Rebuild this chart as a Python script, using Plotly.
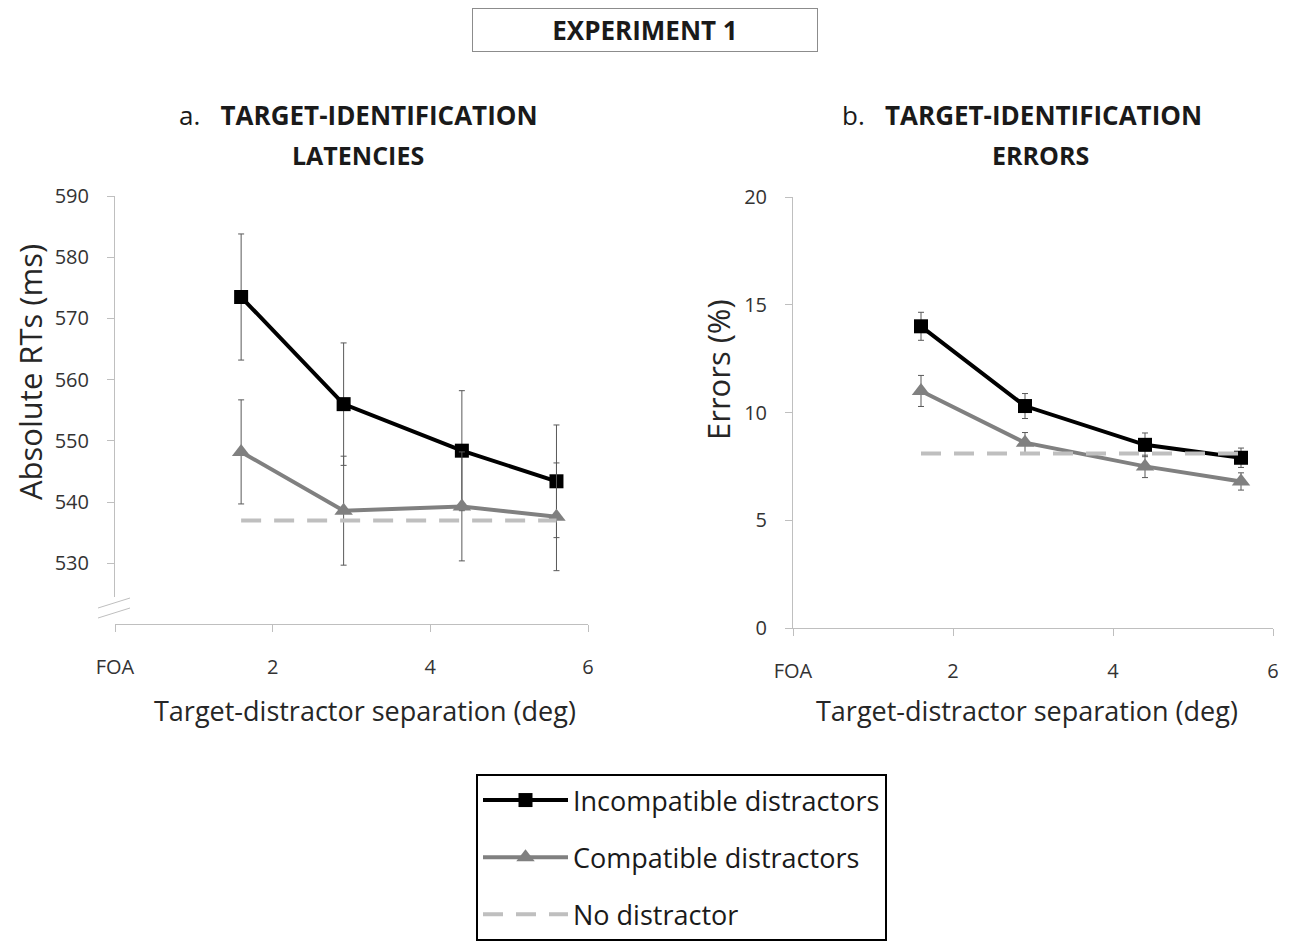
import plotly.graph_objects as go

# ---------------- data ----------------
sep = [1.6, 2.9, 4.4, 5.6]
x_tickvals = [0, 2, 4, 6]
x_ticktext = ["FOA", "2", "4", "6"]

rt_incomp = [573.5, 556.0, 548.4, 543.4]
rt_incomp_err = [10.3, 10.0, 9.8, 9.2]
rt_comp = [548.2, 538.6, 539.3, 537.6]
rt_comp_err = [8.5, 8.9, 8.9, 8.8]
rt_nodist = [537.0, 537.0, 537.0, 537.0]

er_incomp = [14.0, 10.3, 8.5, 7.9]
er_incomp_err = [0.65, 0.58, 0.55, 0.45]
er_comp = [11.0, 8.6, 7.5, 6.8]
er_comp_err = [0.72, 0.47, 0.52, 0.40]
er_nodist = [8.1, 8.1, 8.1, 8.1]

rt_ticks = [530, 540, 550, 560, 570, 580, 590]
er_ticks = [0, 5, 10, 15, 20]

names = ["Incompatible distractors", "Compatible distractors", "No distractor"]

FONT = "Open Sans"
OFF = 8                      # default page body margin
W, H = 1297 - OFF, 945 - OFF

def px_x(p):
    return (p - OFF) / W

def px_y(p):
    return 1 - (p - OFF) / H

fig = go.Figure()

err_style = dict(type="data", thickness=1, width=3, color="#595959")

def add_panel(xa, ya, inc, inc_e, comp, comp_e, nod, legend):
    fig.add_trace(go.Scatter(
        x=sep, y=nod, mode="lines", name=names[2], legendgroup="g3",
        showlegend=legend, xaxis=xa, yaxis=ya,
        line=dict(color="#bfbfbf", width=4, dash="20px,13px")))
    fig.add_trace(go.Scatter(
        x=sep, y=comp, mode="lines+markers", name=names[1], legendgroup="g2",
        showlegend=legend, xaxis=xa, yaxis=ya,
        line=dict(color="#808080", width=4),
        marker=dict(symbol="triangle-up", size=16, color="#808080"),
        error_y=dict(array=comp_e, **err_style)))
    fig.add_trace(go.Scatter(
        x=sep, y=inc, mode="lines+markers", name=names[0], legendgroup="g1",
        showlegend=legend, xaxis=xa, yaxis=ya,
        line=dict(color="#000000", width=4),
        marker=dict(symbol="square", size=14, color="#000000"),
        error_y=dict(array=inc_e, **err_style)))

add_panel("x", "y", rt_incomp, rt_incomp_err, rt_comp, rt_comp_err, rt_nodist, True)
add_panel("x2", "y2", er_incomp, er_incomp_err, er_comp, er_comp_err, er_nodist, False)

# legend order: incompatible, compatible, no distractor
fig.data = tuple([fig.data[2], fig.data[1], fig.data[0], fig.data[5], fig.data[4], fig.data[3]])

axis_common = dict(showgrid=False, zeroline=False, showline=True, automargin=False,
                   linecolor="#bfbfbf", linewidth=1,
                   ticks="outside", tickcolor="#bfbfbf", ticklen=7,
                   tickfont=dict(family=FONT, size=20, color="#333333"))

fig.update_layout(
    width=W, height=H,
    margin=dict(l=0, r=0, t=0, b=0, autoexpand=False),
    paper_bgcolor="white", plot_bgcolor="white",
    font=dict(family=FONT, color="#262626"),
    xaxis=dict(domain=[px_x(115), px_x(588)], range=[0, 6],
               tickvals=x_tickvals, ticktext=x_ticktext,
               anchor="free", position=px_y(624), ticklabelstandoff=18,
               **axis_common),
    yaxis=dict(domain=[px_y(597), px_y(196)], range=[524.5, 590],
               tickvals=rt_ticks, anchor="x", ticklabelstandoff=14,
               **axis_common),
    xaxis2=dict(domain=[px_x(793), px_x(1273)], range=[0, 6],
                tickvals=x_tickvals, ticktext=x_ticktext,
                anchor="y2", ticklabelstandoff=18, **axis_common),
    yaxis2=dict(domain=[px_y(628), px_y(197)], range=[0, 20],
                tickvals=er_ticks, anchor="x2", ticklabelstandoff=14,
                **axis_common),
    legend=dict(x=px_x(476), y=px_y(774), xanchor="left", yanchor="top",
                bordercolor="#000000", borderwidth=2, bgcolor="white",
                font=dict(family=FONT, size=27, color="#1a1a1a"),
                traceorder="grouped", tracegroupgap=19, itemwidth=85),
)

def note(text, x, y, size, color="#1a1a1a", **kw):
    return dict(text=text, x=px_x(x), y=px_y(y), xref="paper", yref="paper",
                xanchor="center", yanchor="middle", showarrow=False,
                font=dict(family=FONT, size=size, color=color), **kw)

ann = [
    note("<b>EXPERIMENT 1</b>", 645, 30, 26, width=342, height=40,
         bordercolor="#8c8c8c", borderwidth=1, borderpad=1),
    note("a.&nbsp;&nbsp;&nbsp;<b>TARGET-IDENTIFICATION</b>", 358, 115, 26),
    note("<b>LATENCIES</b>", 358, 155, 25),
    note("b.&nbsp;&nbsp;&nbsp;<b>TARGET-IDENTIFICATION</b>", 1022, 115, 26),
    note("<b>ERRORS</b>", 1040, 155, 25),
    note("Absolute RTs (ms)", 30, 372, 31, color="#262626", textangle=-90),
    note("Errors (%)", 718, 370, 31, color="#262626", textangle=-90),
    note("Target-distractor separation (deg)", 365, 710, 27, color="#262626"),
    note("Target-distractor separation (deg)", 1027, 710, 27, color="#262626"),
]
fig.update_layout(annotations=ann)

# axis-break marks on the left y axis
for y0 in (608, 618):
    fig.add_shape(type="line", xref="paper", yref="paper",
                  x0=px_x(98), y0=px_y(y0), x1=px_x(130), y1=px_y(y0 - 10),
                  line=dict(color="#bfbfbf", width=1))

fig.write_html("out.html")
